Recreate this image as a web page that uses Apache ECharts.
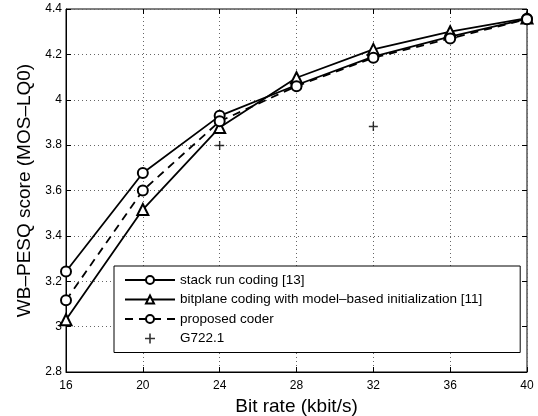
<!DOCTYPE html>
<html>
<head>
<meta charset="utf-8">
<script src="https://cdn.jsdelivr.net/npm/echarts@6/dist/echarts.min.js"></script>
<style>
  html, body { margin: 0; padding: 0; background: #fff; }
  #chart { width: 538px; height: 416px; }
</style>
</head>
<body>
<div id="chart"></div>
<script>
const bitRates = [16, 20, 24, 28, 32, 36, 40];
const stackRun = [3.243, 3.677, 3.929, 4.065, 4.19, 4.278, 4.357];
const bitplane = [3.03, 3.516, 3.878, 4.097, 4.222, 4.3, 4.36];
const proposed = [3.116, 3.60, 3.905, 4.06, 4.185, 4.27, 4.355];
const g722Rates = [24, 32];
const g722 = [3.798, 3.882];

const names = [
  'stack run coding [13]',
  'bitplane coding with model–based initialization [11]',
  'proposed coder',
  'G722.1'
];

const pair = (xs, ys) => xs.map((x, i) => [x, ys[i]]);
const font = 'Liberation Sans, Arial, Helvetica, sans-serif';
const plus = 'path://M4,0h1.6v4.2h4.2v1.6h-4.2v4.2h-1.6v-4.2h-4.2v-1.6h4.2z';

let chart = echarts.init(document.getElementById('chart'));
chart.setOption({
  animation: false,
  textStyle: { fontFamily: font },
  grid: {
    left: 66, right: 11, top: 9, bottom: 44,
    outerBoundsMode: 'none', containLabel: false,
    show: true, borderColor: '#000', borderWidth: 1
  },
  legend: {
    orient: 'vertical',
    left: 114,
    top: 266,
    padding: [7, 38, 7, 10],
    itemGap: 5.5,
    itemWidth: 50,
    itemHeight: 10,
    backgroundColor: '#fff',
    borderColor: '#000',
    borderWidth: 1,
    textStyle: { fontSize: 13.5, color: '#000', fontFamily: font },
    data: names
  },
  xAxis: [{
    type: 'value',
    min: 16, max: 40, interval: 4,
    name: 'Bit rate (kbit/s)',
    nameLocation: 'middle',
    nameGap: 21,
    nameTextStyle: { fontSize: 19, color: '#000' },
    axisLine: { onZero: false, lineStyle: { color: '#000' } },
    axisTick: { inside: true, length: 5, lineStyle: { color: '#000' } },
    axisLabel: { fontSize: 12, color: '#000', margin: 8 },
    splitLine: { show: true, lineStyle: { type: [1, 3], color: '#666' } }
  }, {
    type: 'value', position: 'top',
    min: 16, max: 40, interval: 4,
    axisLine: { show: false },
    axisTick: { inside: true, length: 5, lineStyle: { color: '#000' } },
    axisLabel: { show: false },
    splitLine: { show: false }
  }],
  yAxis: [{
    type: 'value',
    min: 2.8, max: 4.4, interval: 0.2,
    name: 'WB–PESQ score (MOS–LQ0)',
    nameLocation: 'middle',
    nameGap: 31,
    nameTextStyle: { fontSize: 19, color: '#000' },
    axisLine: { onZero: false, lineStyle: { color: '#000' } },
    axisTick: { inside: true, length: 5, lineStyle: { color: '#000' } },
    axisLabel: { fontSize: 12, color: '#000', margin: 4 },
    splitLine: { show: true, lineStyle: { type: [1, 3], color: '#666' } }
  }, {
    type: 'value', position: 'right',
    min: 2.8, max: 4.4, interval: 0.2,
    axisLine: { show: false },
    axisTick: { inside: true, length: 5, lineStyle: { color: '#000' } },
    axisLabel: { show: false },
    splitLine: { show: false }
  }],
  series: [
    {
      name: names[0], type: 'line', data: pair(bitRates, stackRun),
      symbol: 'emptyCircle', symbolSize: 10,
      lineStyle: { color: '#000', width: 1.8 },
      itemStyle: { color: '#000', borderColor: '#000', borderWidth: 1.5 }
    },
    {
      name: names[1], type: 'line', data: pair(bitRates, bitplane),
      symbol: 'emptyTriangle', symbolSize: 11,
      lineStyle: { color: '#000', width: 1.8 },
      itemStyle: { color: '#000', borderColor: '#000', borderWidth: 1.5 }
    },
    {
      name: names[2], type: 'line', data: pair(bitRates, proposed),
      symbol: 'emptyCircle', symbolSize: 10,
      lineStyle: { color: '#000', width: 1.8, type: [8, 6] },
      itemStyle: { color: '#000', borderColor: '#000', borderWidth: 1.5 }
    },
    {
      name: names[3], type: 'scatter', data: pair(g722Rates, g722),
      symbol: plus, symbolSize: 9,
      itemStyle: { color: '#000' }
    }
  ]
});
</script>
</body>
</html>
